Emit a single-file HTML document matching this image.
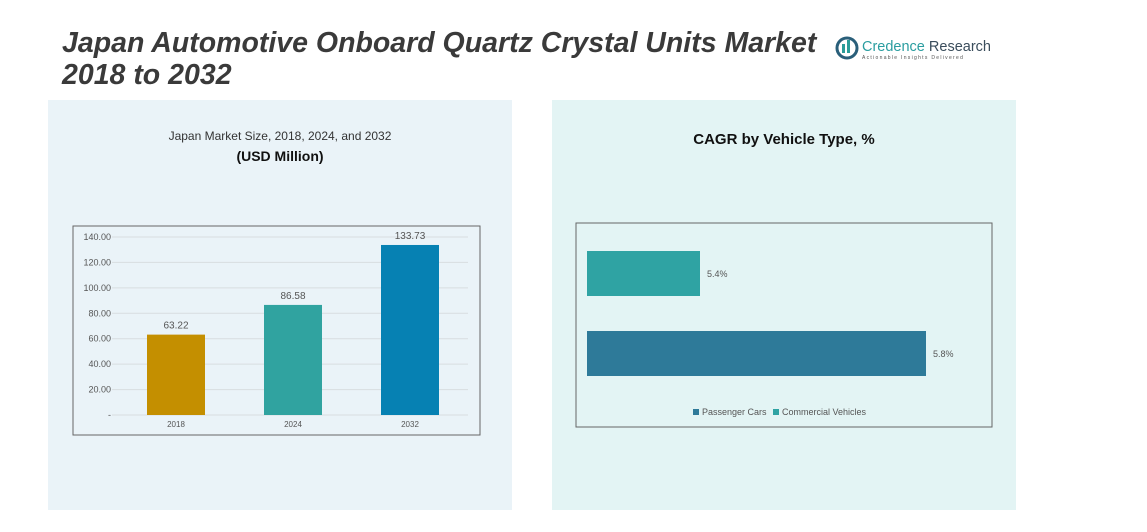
<!DOCTYPE html>
<html><head><meta charset="utf-8"><style>
body{margin:0;width:1147px;height:527px;overflow:hidden;background:#fff;font-family:"Liberation Sans",sans-serif;}
</style></head><body>
<svg id="s" width="1147" height="527" xmlns="http://www.w3.org/2000/svg">
<rect x="48" y="100" width="464" height="410" fill="#eaf3f8"/>
<rect x="552" y="100" width="464" height="410" fill="#e3f4f4"/>
<text x="62" y="52" font-size="28.5" font-weight="bold" font-style="italic" fill="#3a3a3a">Japan Automotive Onboard Quartz Crystal Units Market</text>
<text x="62" y="84" font-size="28.5" font-weight="bold" font-style="italic" fill="#3a3a3a">2018 to 2032</text>
<g>
<circle cx="847" cy="48" r="10" fill="none" stroke="#2a5f7a" stroke-width="3"/>
<rect x="842" y="44" width="3" height="9" fill="#2a9d9a"/><rect x="847" y="40" width="3" height="13" fill="#2a9d9a"/>
<text x="862" y="51" font-size="14.5" fill="#2a9da0">Credence <tspan fill="#3a4d5c">Research</tspan></text>
<text x="862" y="59" font-size="5" fill="#555" letter-spacing="1.3">Actionable Insights Delivered</text>
</g>
<text x="280" y="140" font-size="12" fill="#333" text-anchor="middle">Japan Market Size, 2018, 2024, and 2032</text>
<text x="280" y="161" font-size="14" font-weight="bold" fill="#111" text-anchor="middle">(USD Million)</text>
<rect x="73" y="226" width="407" height="209" fill="none" stroke="#666" stroke-width="1"/>
<g id="lc"></g>
<text x="784" y="144" font-size="15" font-weight="bold" fill="#111" text-anchor="middle">CAGR by Vehicle Type, %</text>
<rect x="576" y="223" width="416" height="204" fill="none" stroke="#666" stroke-width="1"/>
<g id="rc"></g>
<g>
<rect x="693" y="409" width="6" height="6" fill="#2e7a99"/>
<text x="702" y="415" font-size="9" fill="#555">Passenger Cars</text>
<rect x="773" y="409" width="6" height="6" fill="#2fa3a3"/>
<text x="782" y="415" font-size="9" fill="#555">Commercial Vehicles</text>
</g>
</svg>
<script>
const years=["2018","2024","2032"];
const sizes=[63.22,86.58,133.73];
const yTicks=[0,20,40,60,80,100,120,140];
const vehicleTypes=["Commercial Vehicles","Passenger Cars"];
const cagr=[5.4,5.8];
const cagrLabels=["5.4%","5.8%"];
const NS="http://www.w3.org/2000/svg";
function mk(p,t,a){const e=document.createElementNS(NS,t);for(const k in a)e.setAttribute(k,a[k]);p.appendChild(e);return e;}
const lc=document.getElementById('lc');
const y=v=>415-v*(178/140);
const bx=i=>176+i*117;
yTicks.forEach(t=>{
 const l=mk(lc,'line',{x1:112,x2:468,y1:y(t),y2:y(t),stroke:'#d8dde0'});
 
 
 const tx=mk(lc,'text',{x:111,y:y(t)+3,'font-size':9,fill:'#555','text-anchor':'end'});
 tx.textContent=t===0?'-':t.toFixed(2);
 
 
});
const cols=['#c48f00','#30a3a0','#0681b3'];
sizes.forEach((v,i)=>{
 const r=mk(lc,'rect',{x:bx(i)-29,y:y(v),width:58,height:y(0)-y(v),fill:cols[i]});
 
 
 const t=mk(lc,'text',{x:bx(i),y:y(v)-6,'font-size':10,fill:'#555','text-anchor':'middle'});
 t.textContent=v.toFixed(2);
 
 
 const xl=mk(lc,'text',{x:bx(i),y:427,'font-size':8,fill:'#555','text-anchor':'middle'});
 xl.textContent=years[i];
 
 
});
const rc=document.getElementById('rc');
const xs=v=>587+(v-5.2)*565;
const rcols=['#2fa3a3','#2e7a99'];
const rowY=[251,331];
cagr.forEach((v,i)=>{
 const r=mk(rc,'rect',{x:587,y:rowY[i],width:xs(v)-587,height:45,fill:rcols[i]});
 
 
 const t=mk(rc,'text',{x:xs(v)+7,y:rowY[i]+26,'font-size':9,fill:'#555'});
 t.textContent=cagrLabels[i];
 
 
});
</script>
</body></html>
